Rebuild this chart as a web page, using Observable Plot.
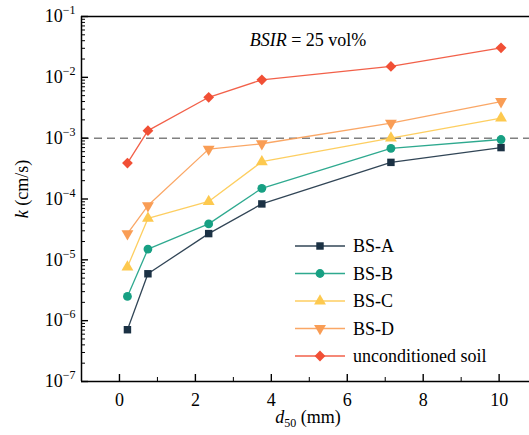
<!DOCTYPE html>
<html>
<head>
<meta charset="utf-8">
<script src="https://cdn.jsdelivr.net/npm/d3@7"></script>
<script src="https://cdn.jsdelivr.net/npm/@observablehq/plot@0.6"></script>
<style>
  html, body { margin: 0; padding: 0; background: #fff; font-family: "Times New Roman", "Liberation Serif", serif; }
</style>
</head>
<body>
<div id="chart"></div>
<script>
// ---- data ----
const d50 = [0.21, 0.75, 2.35, 3.75, 7.15, 10.05];
const seriesNames = ["BS-A", "BS-B", "BS-C", "BS-D", "unconditioned soil"];
const kBSA = [7.1e-7, 5.9e-6, 2.7e-5, 8.3e-5, 4.0e-4, 7.0e-4];
const kBSB = [2.5e-6, 1.5e-5, 3.9e-5, 1.5e-4, 6.8e-4, 9.5e-4];
const kBSC = [7.6e-6, 4.8e-5, 9.1e-5, 4.1e-4, 1.0e-3, 2.14e-3];
const kBSD = [2.7e-5, 7.8e-5, 6.6e-4, 8.1e-4, 1.76e-3, 4.0e-3];
const kUncond = [3.9e-4, 1.33e-3, 4.7e-3, 9.1e-3, 1.51e-2, 3.05e-2];
const thresholdK = [1e-3];
const xTicks = [0, 2, 4, 6, 8, 10];
const xMinorTicks = [1, 3, 5, 7, 9];
const yTicks = [1e-7, 1e-6, 1e-5, 1e-4, 1e-3, 1e-2, 1e-1];

// ---- styling ----
const colors = ["#1b3144", "#17a083", "#fdc94f", "#f99d55", "#f14f35"];
const symbols = ["square", "circle", "triangle", "triangle", "square"];
const rotations = [0, 0, 0, 180, 45];
const radii = [4.2, 4.4, 4.4, 4.4, 4.3];

const allK = [kBSA, kBSB, kBSC, kBSD, kUncond];
const rows = seriesNames.flatMap((s, i) => d50.map((x, j) => ({series: s, x, k: allK[i][j]})));
const yMinor = [];
for (let e = -7; e < -1; e++) for (let m = 2; m <= 9; m++) yMinor.push(m * Math.pow(10, e));

const W = 529, H = 435, mL = 81, mR = 0, mT = 16, mB = 54;
const pw = W - mL - mR, ph = H - mT - mB;
const FONT = "Times New Roman, Liberation Serif, serif";

const marks = [
  Plot.ruleY(thresholdK, {stroke: "#808080", strokeWidth: 1.5, strokeDasharray: "8,5"}),
];
seriesNames.forEach((s, i) => {
  const data = rows.filter(r => r.series === s);
  marks.push(Plot.line(data, {x: "x", y: "k", stroke: colors[i], strokeWidth: 1.3, strokeOpacity: 0.9}));
  marks.push(Plot.dot(data, {x: "x", y: "k", fill: colors[i], stroke: "none", symbol: symbols[i], rotate: rotations[i], r: radii[i]}));
});
marks.push(
  Plot.ruleX([-1], {stroke: "#000", strokeWidth: 1.5}),
  Plot.ruleY([1e-7], {stroke: "#000", strokeWidth: 1.5}),
  Plot.ruleY([1e-1], {stroke: "#000", strokeWidth: 1.5}),
  Plot.tickY(yTicks, {y: d => d, insetRight: pw - 7, stroke: "#000", strokeWidth: 1.4}),
  Plot.tickY(yMinor, {y: d => d, insetRight: pw - 4, stroke: "#000", strokeWidth: 1}),
  Plot.tickX(xTicks, {x: d => d, insetTop: ph - 7, stroke: "#000", strokeWidth: 1.4}),
  Plot.tickX(xMinorTicks, {x: d => d, insetTop: ph - 4, stroke: "#000", strokeWidth: 1}),
  Plot.axisY(yTicks, {anchor: "left", tickSize: 0, tickPadding: 6, fontSize: 18, fontFamily: FONT, fill: "#000",
    tickFormat: d => "10^" + Math.round(Math.log10(d)), label: null}),
  Plot.axisX(xTicks, {anchor: "bottom", tickSize: 0, tickPadding: 12, fontSize: 18, fontFamily: FONT, fill: "#000",
    tickFormat: d => String(d), label: null})
);

const svg = Plot.plot({
  width: W, height: H,
  marginLeft: mL, marginRight: mR, marginTop: mT, marginBottom: mB,
  x: {domain: [-1, 10.8]},
  y: {type: "log", domain: [1e-7, 1e-1]},
  style: {fontFamily: FONT, fontSize: "18px"},
  marks
});
svg.setAttribute("font-family", FONT);
document.getElementById("chart").appendChild(svg);

// superscript exponents on y tick labels
const ns = "http://www.w3.org/2000/svg";
svg.querySelectorAll("text").forEach(t => {
  const m = /^10\^(-?\d+)$/.exec(t.textContent);
  if (!m) return;
  t.textContent = "";
  const a = document.createElementNS(ns, "tspan");
  a.textContent = "10";
  const b = document.createElementNS(ns, "tspan");
  b.textContent = m[1].replace("-", "\u2212");
  b.setAttribute("font-size", "12");
  b.setAttribute("dy", "-8");
  t.appendChild(a); t.appendChild(b);
});

const g = d3.select(svg).append("g").attr("fill", "#000").attr("font-family", FONT).attr("text-anchor", "start");

// title
const title = g.append("text").attr("x", 308).attr("y", 46).attr("text-anchor", "middle").attr("font-size", 18);
title.append("tspan").attr("font-style", "italic").text("BSIR");
title.append("tspan").text(" = 25 vol%");

// x label
const xl = g.append("text").attr("x", 308).attr("y", 423).attr("text-anchor", "middle").attr("font-size", 18);
xl.append("tspan").attr("font-style", "italic").text("d");
xl.append("tspan").attr("font-size", 12).attr("dy", 4).text("50");
xl.append("tspan").attr("dy", -4).text(" (mm)");

// y label
const yl = g.append("text").attr("transform", "translate(28,189) rotate(-90)").attr("text-anchor", "middle").attr("font-size", 18);
yl.append("tspan").attr("font-style", "italic").text("k");
yl.append("tspan").text(" (cm/s)");

// legend
const symMap = {square: d3.symbolSquare, circle: d3.symbolCircle, triangle: d3.symbolTriangle};
seriesNames.forEach((s, i) => {
  const y = 246 + i * 27.5;
  g.append("line").attr("x1", 295).attr("x2", 345).attr("y1", y).attr("y2", y)
    .attr("stroke", colors[i]).attr("stroke-width", 1.6).attr("stroke-opacity", 0.9);
  g.append("path").attr("d", d3.symbol(symMap[symbols[i]], Math.PI * radii[i] * radii[i])())
    .attr("transform", `translate(320,${y}) rotate(${rotations[i]})`).attr("fill", colors[i]);
  g.append("text").attr("x", 353).attr("y", y).attr("dy", "0.35em").attr("text-anchor", "start").attr("font-size", 18).text(s);
});

svg.querySelectorAll("text").forEach(el => el.setAttribute("font-family", FONT));
</script>
</body>
</html>
